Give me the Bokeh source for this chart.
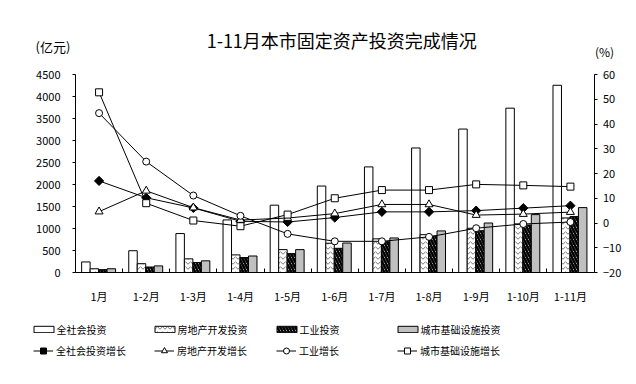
from bokeh.plotting import figure
from bokeh.models import (Range1d, LinearAxis, FixedTicker, Legend, LegendItem,
                          Label, ColumnDataSource)
from bokeh.transform import dodge
from bokeh.embed import file_html
from bokeh.resources import INLINE

# ---------------- data ----------------
categories = ["1月", "1-2月", "1-3月", "1-4月", "1-5月", "1-6月",
              "1-7月", "1-8月", "1-9月", "1-10月", "1-11月"]
total_inv = [240, 495, 885, 1195, 1530, 1965, 2400, 2830, 3260, 3735, 4255]
realestate_inv = [85, 200, 310, 400, 520, 665, 765, 860, 1005, 1105, 1240]
industry_inv = [65, 125, 225, 340, 430, 550, 700, 825, 950, 1080, 1270]
infra_inv = [85, 150, 265, 375, 520, 670, 785, 945, 1125, 1315, 1475]

total_growth = [17.0, 10.2, 6.1, 0.7, 0.4, 2.2, 4.5, 4.5, 5.0, 6.0, 7.0]
realestate_growth = [4.6, 13.0, 6.2, 1.2, 2.0, 3.8, 7.5, 7.5, 3.2, 3.6, 4.4]
industry_growth = [44.4, 24.8, 11.1, 2.9, -4.4, -7.4, -7.4, -5.6, -2.1, -0.4, 0.4]
infra_growth = [52.8, 8.0, 1.0, -1.3, 3.4, 10.0, 13.3, 13.3, 15.6, 15.2, 14.7]

left_ticks = list(range(0, 4501, 500))
right_ticks = list(range(-20, 61, 10))

FONT = "Noto Sans CJK SC"
N = len(categories)

# Layout of the chart area inside the canvas (pixels)
W, H = 636, 384
AX_L, AX_R, AX_T, AX_B = 75.0, 593.5, 74.0, 272.0
cat_px = (AX_R - AX_L) / N
y_px = (AX_B - AX_T) / (left_ticks[-1] - left_ticks[0])
p_px = (AX_B - AX_T) / (right_ticks[-1] - right_ticks[0])

x_start = -0.5 - AX_L / cat_px
x_end = N - 0.5 + (W - AX_R) / cat_px
y_start = left_ticks[0] - (H - AX_B) / y_px
y_end = left_ticks[-1] + AX_T / y_px
p_start = right_ticks[0] - (H - AX_B) / p_px
p_end = right_ticks[-1] + AX_T / p_px

src = ColumnDataSource(dict(
    x=list(range(N)), cat=categories,
    total_inv=total_inv, realestate_inv=realestate_inv,
    industry_inv=industry_inv, infra_inv=infra_inv,
    total_growth=total_growth, realestate_growth=realestate_growth,
    industry_growth=industry_growth, infra_growth=infra_growth,
))

p = figure(width=W, height=H, output_backend="svg", toolbar_location=None,
           x_range=Range1d(x_start, x_end), y_range=Range1d(y_start, y_end),
           x_axis_location=None, y_axis_location=None,
           min_border=0, min_border_left=0, min_border_right=0,
           min_border_top=0, min_border_bottom=0)
p.title.visible = False
p.outline_line_color = None
p.background_fill_color = "white"
p.border_fill_color = "white"
p.grid.visible = False
p.extra_y_ranges = {"pct": Range1d(p_start, p_end)}

# ---------------- axes ----------------
yl = LinearAxis(ticker=FixedTicker(ticks=left_ticks), fixed_location=-0.5,
                bounds=(left_ticks[0], left_ticks[-1]))
yl.major_tick_in = 0
yl.major_tick_out = 3
yl.minor_tick_line_color = None
yl.major_label_standoff = 12
yl.major_label_text_font = FONT
yl.major_label_text_font_size = "11px"
yl.major_label_text_color = "black"
yl.axis_line_color = "black"
p.add_layout(yl, "left")

yr = LinearAxis(y_range_name="pct", ticker=FixedTicker(ticks=right_ticks),
                fixed_location=N - 0.5, bounds=(right_ticks[0], right_ticks[-1]))
yr.major_tick_in = 0
yr.major_tick_out = 3
yr.minor_tick_line_color = None
yr.major_label_standoff = 6
yr.major_label_text_font = FONT
yr.major_label_text_font_size = "11px"
yr.major_label_text_color = "black"
p.add_layout(yr, "right")

xa = LinearAxis(ticker=FixedTicker(ticks=list(range(N)),
                                   minor_ticks=[i - 0.5 for i in range(N + 1)]),
                fixed_location=0, bounds=(-0.5, N - 0.5))
xa.major_label_overrides = {i: c for i, c in enumerate(categories)}
xa.major_tick_line_color = None
xa.major_tick_in = 0
xa.major_tick_out = 0
xa.minor_tick_in = 4
xa.minor_tick_out = 0
xa.minor_tick_line_color = "black"
xa.major_label_standoff = 15
xa.major_label_text_font = FONT
xa.major_label_text_font_size = "11px"
xa.major_label_text_color = "black"
p.add_layout(xa, "below")

# ---------------- bars ----------------
bw = 0.18
r_total = p.vbar(x=dodge("x", -0.28), top="total_inv", width=bw, source=src,
                 fill_color="white", line_color="black", line_width=1)
r_re = p.vbar(x=dodge("x", -0.10), top="realestate_inv", width=bw, source=src,
              fill_color="white", line_color="black", line_width=1,
              hatch_pattern="horizontal_wave", hatch_color="#555555",
              hatch_scale=5, hatch_weight=0.8)
r_ind = p.vbar(x=dodge("x", 0.08), top="industry_inv", width=bw, source=src,
               fill_color="white", line_color="black", line_width=1,
               hatch_pattern="left_diagonal_line", hatch_color="black",
               hatch_scale=6, hatch_weight=2.5)
r_inf = p.vbar(x=dodge("x", 0.26), top="infra_inv", width=bw, source=src,
               fill_color="#c0c0c0", line_color="black", line_width=1)

# ---------------- lines ----------------
def growth(col, marker, size, fill, angle=0.0):
    ln = p.line("x", col, source=src, y_range_name="pct", line_color="black", line_width=1)
    sc = p.scatter("x", col, source=src, y_range_name="pct", marker=marker, size=size,
                   fill_color=fill, line_color="black", line_width=1, angle=angle)
    return [ln, sc]

g_total = growth("total_growth", "square", 6.5, "black", angle=0.785398)
g_re = growth("realestate_growth", "triangle", 8, "white")
g_ind = growth("industry_growth", "circle", 7, "white")
g_inf = growth("infra_growth", "square", 7, "white")

# ---------------- legends ----------------
def add_legend(renderers, label, x, y, gw, gh, standoff):
    lg = Legend(items=[LegendItem(label=label, renderers=renderers)], location=(x, y),
                orientation="vertical", glyph_width=gw, glyph_height=gh, label_height=gh,
                label_standoff=standoff, padding=0, margin=0, spacing=0,
                border_line_color=None, background_fill_alpha=0,
                label_text_font=FONT, label_text_font_size="10px", label_text_color="black")
    p.add_layout(lg, "center")

bar_x = [30.5, 151.5, 273.5, 394.5]
line_x = [33, 154, 276, 397]
for r, lab, x in zip([r_total, r_re, r_ind, r_inf],
                     ["全社会投资", "房地产开发投资", "工业投资", "城市基础设施投资"], bar_x):
    add_legend([r], lab, x, H - 336.5, 25, 8, 1)
for g, lab, x in zip([g_total, g_re, g_ind, g_inf],
                     ["全社会投资增长", "房地产开发增长", "工业增长", "城市基础设施增长"], line_x):
    add_legend(g, lab, x, H - 357.5, 20, 15, 3)

# ---------------- texts ----------------
p.add_layout(Label(x=5, y=left_ticks[-1], x_offset=7, y_offset=35,
                   text="1-11月本市固定资产投资完成情况",
                   text_align="center", text_baseline="middle", text_font=FONT,
                   text_font_size="18px", text_color="black"))
p.add_layout(Label(x=-0.5, y=left_ticks[-1], x_offset=-40, y_offset=28, text="(亿元)",
                   text_align="left", text_baseline="middle", text_font=FONT,
                   text_font_size="13px", text_color="black"))
p.add_layout(Label(x=N - 0.5, y=left_ticks[-1], x_offset=1, y_offset=23.5, text="(%)",
                   text_align="left", text_baseline="middle", text_font=FONT,
                   text_font_size="12px", text_color="black"))

open("out.html", "w").write(file_html(p, INLINE, "chart"))
